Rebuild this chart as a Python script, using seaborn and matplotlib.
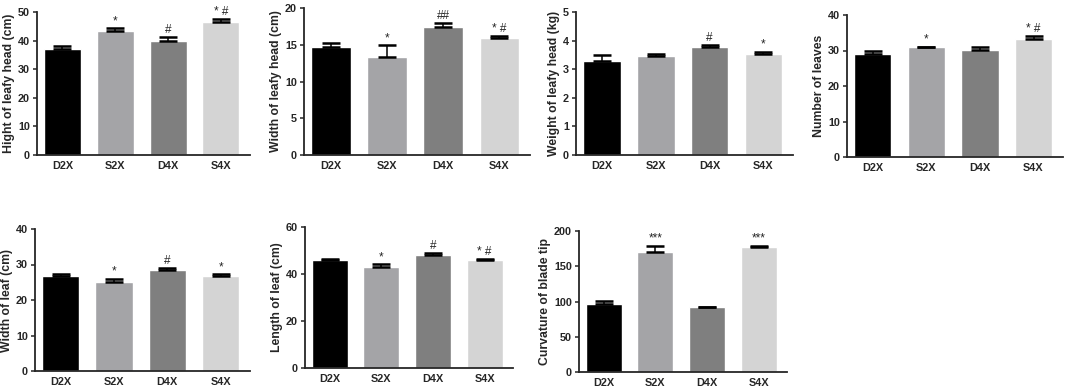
import numpy as np
import pandas as pd
import matplotlib
matplotlib.use('Agg')
import matplotlib.pyplot as plt
import seaborn as sns

groups = ['D2X', 'S2X', 'D4X', 'S4X']
bar_colors = ['#000000', '#a3a3a8', '#7f7f7f', '#d4d4d4']

height_head = [37.2, 43.5, 40.0, 46.5]
height_head_err = [1.0, 0.8, 1.1, 1.0]
width_head = [14.7, 13.3, 17.4, 15.9]
width_head_err = [0.6, 1.6, 0.5, 0.3]
weight_head = [3.30, 3.46, 3.77, 3.52]
weight_head_err = [0.20, 0.08, 0.06, 0.08]
n_leaves = [29.1, 31.0, 30.1, 33.1]
n_leaves_err = [0.9, 0.1, 0.9, 0.9]
width_leaf = [26.8, 25.1, 28.5, 26.7]
width_leaf_err = [0.4, 0.9, 0.4, 0.5]
length_leaf = [45.9, 43.1, 48.2, 45.8]
length_leaf_err = [0.4, 1.0, 0.8, 0.4]
curvature = [96.0, 170.0, 91.5, 177.0]
curvature_err = [5.0, 9.0, 1.0, 2.0]

panels = [
    ('Hight of leafy head (cm)', height_head, height_head_err, 50, 10, ['', '*', '#', '* #']),
    ('Width of leafy head (cm)', width_head, width_head_err, 20, 5, ['', '*', '##', '* #']),
    ('Weight of leafy head (kg)', weight_head, weight_head_err, 5, 1, ['', '', '#', '*']),
    ('Number of leaves', n_leaves, n_leaves_err, 40, 10, ['', '*', '', '* #']),
    ('Width of leaf (cm)', width_leaf, width_leaf_err, 40, 10, ['', '*', '#', '*']),
    ('Length of leaf (cm)', length_leaf, length_leaf_err, 60, 20, ['', '*', '#', '* #']),
    ('Curvature of blade tip', curvature, curvature_err, 200, 50, ['', '***', '', '***']),
]

# axes boxes in pixels: left, top, right, bottom
boxes = [
    (37, 12, 250, 155),
    (304, 8, 530, 155),
    (576, 12, 793, 155),
    (847, 15, 1063, 157),
    (35, 229, 250, 371),
    (305, 227, 513, 368),
    (579, 231, 787, 372),
]

sns.set_style('ticks')
plt.rcParams['font.family'] = ['Liberation Sans', 'DejaVu Sans']
plt.rcParams['font.weight'] = 'bold'

W, H = 1065, 388
fig = plt.figure(figsize=(W / 100, H / 100), dpi=100)

for (label, vals, errs, ymax, step, marks), (l, t, r, b) in zip(panels, boxes):
    ax = fig.add_axes([l / W, 1 - b / H, (r - l) / W, (b - t) / H])
    df = pd.DataFrame({'group': groups, 'value': vals})
    sns.barplot(data=df, x='group', y='value', hue='group', palette=bar_colors,
                legend=False, errorbar=None, width=0.7, ax=ax)
    x = np.arange(len(groups))
    ax.errorbar(x, vals, yerr=[np.zeros(len(errs)), errs], fmt='none',
                ecolor='black', elinewidth=1.1, capsize=6.5, capthick=1.8)
    for xi, v, e, m in zip(x, vals, errs, marks):
        if m:
            ax.text(xi, v + e + ymax * 0.008, m, ha='center', va='bottom',
                    fontsize=8.5, fontweight='normal')
    ax.set_xlim(-0.48, 3.55)
    ax.set_ylim(0, ymax)
    ax.set_yticks(np.arange(0, ymax + step / 2, step))
    ax.set_xlabel('')
    ax.set_ylabel(label, fontsize=8.8, fontweight='bold', labelpad=2)
    ax.tick_params(axis='y', labelsize=7.8, width=1.1, length=3, pad=2)
    ax.tick_params(axis='x', labelsize=7.8, length=0, pad=4)
    for s in ['left', 'bottom']:
        ax.spines[s].set_linewidth(1.3)
    sns.despine(ax=ax)
    for lab in ax.get_xticklabels() + ax.get_yticklabels():
        lab.set_fontweight('bold')

fig.savefig('out.png', dpi=100)
